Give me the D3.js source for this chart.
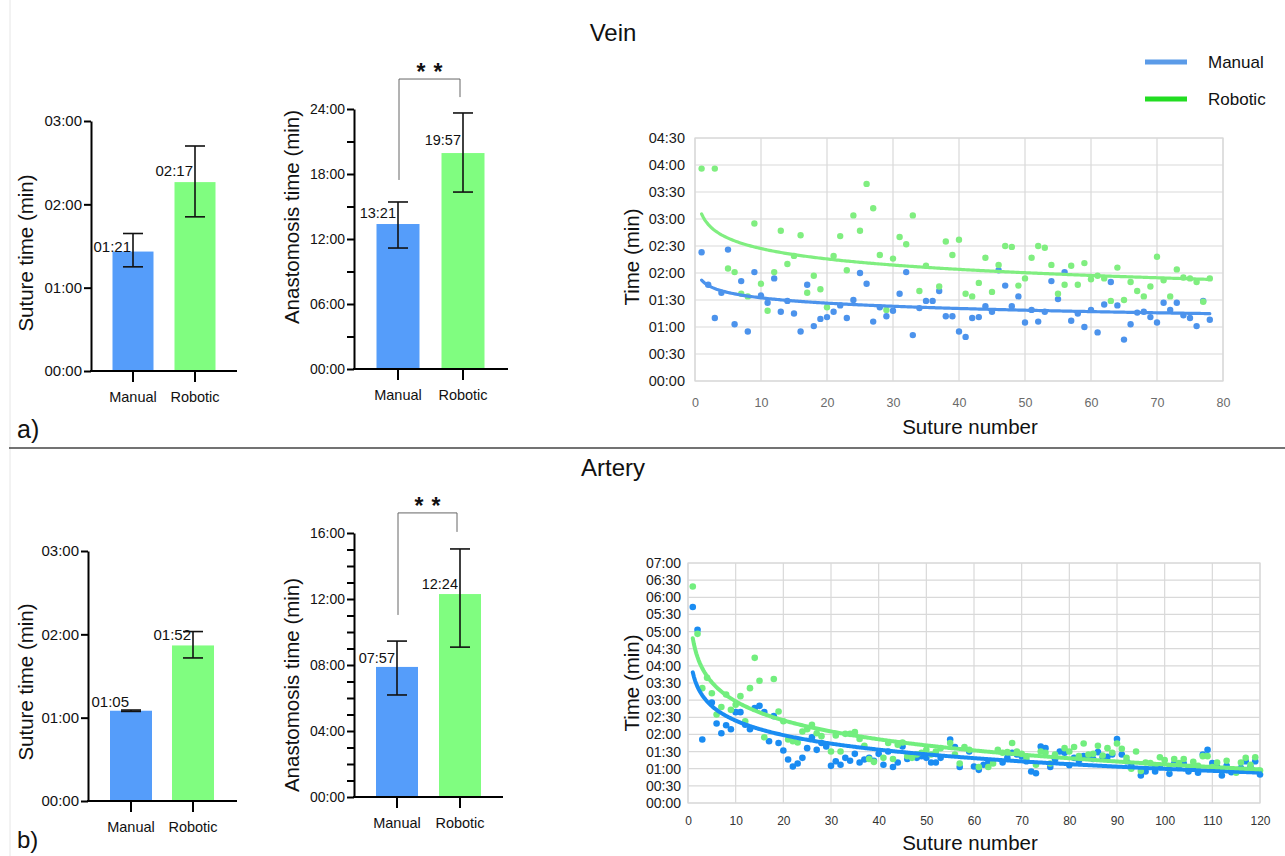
<!DOCTYPE html>
<html><head><meta charset="utf-8">
<script src="https://cdn.jsdelivr.net/npm/d3@7"></script>
<style>body{margin:0;background:#fff;} svg{display:block;font-family:"Liberation Sans",Arial,Helvetica,sans-serif;}</style>
</head><body><svg id="c" width="1285" height="856"></svg>
<script>
// ---------------- DATA ----------------
const groups = ["Manual", "Robotic"];
const legendLabels = ["Manual", "Robotic"];
const panelTitles = ["Vein", "Artery"];
const panelTags = ["a)", "b)"];

// Vein bar charts (values in seconds)
const veinSutureMean = [86, 136];
const veinSutureLow = [75, 111];
const veinSutureHigh = [99, 162];
const veinSutureLabels = ["01:21", "02:17"];
const veinSutureTicks = [0, 60, 120, 180];

const veinAnastMean = [803, 1196];
const veinAnastLow = [670, 980];
const veinAnastHigh = [925, 1418];
const veinAnastLabels = ["13:21", "19:57"];
const veinAnastTicks = [0, 180, 360, 540, 720, 900, 1080, 1260, 1440];
const veinAnastTickLabels = [0, 360, 720, 1080, 1440];
const veinBracket = [1047, 1606, 1506]; // left leg bottom, top, right leg bottom

// Artery bar charts
const arterySutureMean = [65, 112];
const arterySutureLow = [64.5, 103];
const arterySutureHigh = [65.5, 122];
const arterySutureLabels = ["01:05", "01:52"];
const arterySutureTicks = [0, 60, 120, 180];

const arteryAnastMean = [473, 738];
const arteryAnastLow = [371, 545];
const arteryAnastHigh = [567, 902];
const arteryAnastLabels = ["07:57", "12:24"];
const arteryAnastTicks = d3.range(0, 961, 60);
const arteryAnastTickLabels = [0, 240, 480, 720, 960];
const arteryBracket = [662, 1033, 964];

const significance = "*";

// Vein scatter: time (s) per suture number 1..78 (null = not visible)
const veinManual = [143,107,70,98,146,63,111,55,121,95,87,114,77,89,75,55,107,61,69,71,77,84,70,90,120,108,66,82,72,78,97,121,51,81,89,89,100,72,72,55,49,70,71,83,77,123,106,83,94,65,79,66,77,111,91,121,67,75,60,79,54,85,110,84,46,63,76,77,71,65,87,79,87,73,70,61,89,68];
const veinRobotic = [236,null,236,null,125,121,97,94,175,108,78,121,167,130,139,162,98,117,102,82,139,161,123,184,167,219,192,140,79,136,160,152,184,100,128,null,105,155,140,157,97,94,109,137,99,129,150,149,106,114,137,150,148,129,97,107,128,107,131,113,117,114,89,126,90,110,100,94,105,138,112,94,124,115,114,110,88,114];
const veinXTicks = d3.range(0, 81, 10);
const veinYTicks = d3.range(0, 271, 30);

// Artery scatter: time (s) per suture number 1..120
const arteryManual = [343,303,111,null,176,139,122,136,129,159,159,137,129,166,170,159,108,152,105,92,76,64,69,79,96,115,93,105,99,65,73,67,79,74,86,71,76,79,74,86,67,90,63,71,99,77,82,79,82,79,71,71,79,null,111,98,63,null,90,64,58,67,71,null,null,71,79,88,85,82,73,55,52,99,96,63,76,90,88,66,79,74,82,79,77,89,80,81,85,112,85,73,65,null,48,55,null,55,63,null,51,69,65,69,55,63,53,85,93,70,63,48,65,54,null,61,73,63,73,50];
const arteryRobotic = [379,296,201,219,192,155,168,190,163,172,187,143,201,254,214,115,null,217,160,143,111,108,106,125,129,137,122,117,null,90,118,90,121,121,124,112,100,77,72,null,79,105,77,102,106,82,79,85,88,93,85,90,96,null,105,85,69,98,93,null,63,null,63,69,93,88,89,105,90,86,79,null,67,90,88,69,85,null,96,90,98,82,104,85,86,100,83,96,88,104,95,79,60,90,56,71,70,64,80,75,61,77,70,77,61,72,65,82,82,63,71,58,74,58,53,71,79,67,80,57];
const arteryXTicks = d3.range(0, 121, 10);
const arteryYTicks = d3.range(0, 421, 30);

// ---------------- STYLE ----------------
const C = {
  barBlue: "#559DFA", barGreen: "#80FD80",
  veinBlue: "#4C93EC", veinGreen: "#80EE80",
  artBlue: "#1A8CF2", artGreen: "#72EE7E",
  legBlue: "#5B9BE8", legGreen: "#22DD22",
  grid: "#d9d9d9"
};
const FONT = '"Liberation Sans",Arial,Helvetica,sans-serif';
const svg = d3.select("#c");
const fmt = s => { s = Math.round(s); const m = Math.floor(s / 60), r = s % 60; return String(m).padStart(2, "0") + ":" + String(r).padStart(2, "0"); };

// ---------- frame ----------
svg.append("line").attr("x1", 10).attr("x2", 10).attr("y1", 0).attr("y2", 856).attr("stroke", "#e6e6e6").attr("stroke-width", 1);
svg.append("line").attr("x1", 9).attr("x2", 1285).attr("y1", 448).attr("y2", 448).attr("stroke", "#444").attr("stroke-width", 1.5);

svg.append("text").attr("x", 613).attr("y", 41).attr("text-anchor", "middle").attr("font-size", 24).attr("fill", "#111").text(panelTitles[0]);
svg.append("text").attr("x", 613).attr("y", 476).attr("text-anchor", "middle").attr("font-size", 24).attr("fill", "#111").text(panelTitles[1]);
svg.append("text").attr("x", 17).attr("y", 438).attr("font-size", 25).attr("fill", "#111").text(panelTags[0]);
svg.append("text").attr("x", 17).attr("y", 848).attr("font-size", 24).attr("fill", "#111").text(panelTags[1]);

// legend
const legColors = [C.legBlue, C.legGreen];
legendLabels.forEach((l, i) => {
  const y = 62 + i * 37;
  svg.append("line").attr("x1", 1145).attr("x2", 1187).attr("y1", y).attr("y2", y).attr("stroke", legColors[i]).attr("stroke-width", 5);
  svg.append("text").attr("x", 1208).attr("y", y + 6).attr("font-size", 17).attr("fill", "#111").text(l);
});

// ---------- bar charts ----------
function barChart(o) {
  const g = svg.append("g");
  const y = d3.scaleLinear().domain([0, o.max]).range([o.y0, o.y1]);
  const x = d3.scalePoint().domain(groups).range(o.centers);
  const cols = [C.barBlue, C.barGreen];
  g.selectAll("rect.bar").data(groups).join("rect")
    .attr("x", d => x(d) - o.bw / 2).attr("width", o.bw)
    .attr("y", (d, i) => y(o.mean[i])).attr("height", (d, i) => y(0) - y(o.mean[i]))
    .attr("fill", (d, i) => cols[i]);
  const ay = d3.axisLeft(y).tickValues(o.ticks).tickSize(7).tickSizeOuter(0)
    .tickFormat(d => o.labelTicks.includes(d) ? fmt(d) : "");
  const ga = g.append("g").attr("transform", `translate(${o.ax},0)`).call(ay);
  ga.select(".domain").attr("stroke", "#000").attr("stroke-width", 2);
  ga.selectAll(".tick line").attr("stroke", "#000").attr("stroke-width", 2);
  ga.selectAll(".tick text").attr("font-family", FONT).attr("font-size", o.tfs).attr("fill", "#111").attr("x", -9);
  g.append("line").attr("x1", o.ax - 1).attr("x2", o.xEnd).attr("y1", o.y0).attr("y2", o.y0).attr("stroke", "#000").attr("stroke-width", 2);
  g.selectAll("line.xt").data(groups).join("line").attr("class", "xt")
    .attr("x1", d => x(d)).attr("x2", d => x(d)).attr("y1", o.y0).attr("y2", o.y0 + 11).attr("stroke", "#000").attr("stroke-width", 2);
  g.selectAll("text.xl").data(groups).join("text").attr("class", "xl")
    .attr("x", d => x(d)).attr("y", o.y0 + 31).attr("text-anchor", "middle").attr("font-size", 14.5).attr("fill", "#111").text(d => d);
  groups.forEach((d, i) => {
    const cx = x(d);
    g.append("line").attr("x1", cx).attr("x2", cx).attr("y1", y(o.low[i])).attr("y2", y(o.high[i])).attr("stroke", "#111").attr("stroke-width", 1.6);
    [o.low[i], o.high[i]].forEach(v => g.append("line").attr("x1", cx - 10).attr("x2", cx + 10).attr("y1", y(v)).attr("y2", y(v)).attr("stroke", "#111").attr("stroke-width", 1.6));
    g.append("text").attr("x", cx - 2).attr("y", y(o.mean[i]) - 4 + o.lblDy[i]).attr("text-anchor", "end").attr("font-size", o.vfs).attr("fill", "#111").text(o.labels[i]);
  });
  g.append("text").attr("transform", `translate(${o.titleX},${(o.y0 + o.y1) / 2 + o.titleDy}) rotate(-90)`)
    .attr("text-anchor", "middle").attr("font-size", 20.5).attr("fill", "#111").text(o.title);
  if (o.bracket) {
    const [lb, top, rb] = o.bracket;
    const xl = x(groups[0]) + 1, xr = x(groups[1]) - 3;
    g.append("path").attr("d", `M${xl},${y(lb)}V${y(top)}H${xr}V${y(rb)}`).attr("fill", "none").attr("stroke", "#666").attr("stroke-width", 1);
    const mx = (xl + xr) / 2;
    [-8.5, 8.5].forEach(dx => g.append("text").attr("x", mx + dx).attr("y", y(top) + 1).attr("text-anchor", "middle").attr("font-size", 23).attr("font-weight", "bold").attr("fill", "#111").text(significance));
  }
}

barChart({ max: 180, y0: 371, y1: 121, ax: 91, xEnd: 237, centers: [133, 195], bw: 41, mean: veinSutureMean, low: veinSutureLow, high: veinSutureHigh, labels: veinSutureLabels, ticks: veinSutureTicks, labelTicks: veinSutureTicks, tfs: 15, vfs: 15, lblDy: [4, -2], title: "Suture time (min)", titleX: 33, titleDy: 7 });
barChart({ max: 1440, y0: 369, y1: 109, ax: 354, xEnd: 508, centers: [398, 463], bw: 43, mean: veinAnastMean, low: veinAnastLow, high: veinAnastHigh, labels: veinAnastLabels, ticks: veinAnastTicks, labelTicks: veinAnastTickLabels, tfs: 14, vfs: 14.5, lblDy: [-2, -4], title: "Anastomosis time (min)", titleX: 299, titleDy: -22, bracket: veinBracket });
barChart({ max: 180, y0: 801, y1: 551, ax: 88, xEnd: 237, centers: [131, 193], bw: 42, mean: arterySutureMean, low: arterySutureLow, high: arterySutureHigh, labels: arterySutureLabels, ticks: arterySutureTicks, labelTicks: arterySutureTicks, tfs: 15, vfs: 15, lblDy: [0, -1], title: "Suture time (min)", titleX: 33, titleDy: 6 });
barChart({ max: 960, y0: 797, y1: 533, ax: 354, xEnd: 503, centers: [397, 460], bw: 42, mean: arteryAnastMean, low: arteryAnastLow, high: arteryAnastHigh, labels: arteryAnastLabels, ticks: arteryAnastTicks, labelTicks: arteryAnastTickLabels, tfs: 14, vfs: 14.5, lblDy: [0, -1], title: "Anastomosis time (min)", titleX: 299, titleDy: 20, bracket: arteryBracket });

// ---------- scatter charts ----------
function logFit(pts) {
  const n = pts.length; let sx = 0, sy = 0, sxx = 0, sxy = 0;
  pts.forEach(p => { const lx = Math.log(p.x); sx += lx; sy += p.y; sxx += lx * lx; sxy += lx * p.y; });
  const b = (n * sxy - sx * sy) / (n * sxx - sx * sx); const a = (sy - b * sx) / n;
  return v => a + b * Math.log(v);
}
function scatter(o) {
  const g = svg.append("g");
  const x = d3.scaleLinear().domain([0, o.xmax]).range([o.left, o.right]);
  const y = d3.scaleLinear().domain([0, o.ymax]).range([o.bottom, o.top]);
  g.selectAll("line.gx").data(o.xticks).join("line").attr("x1", d => x(d)).attr("x2", d => x(d)).attr("y1", o.top).attr("y2", o.bottom).attr("stroke", C.grid).attr("stroke-width", 1.2);
  g.selectAll("line.gy").data(o.yticks).join("line").attr("x1", o.left).attr("x2", o.right).attr("y1", d => y(d)).attr("y2", d => y(d)).attr("stroke", C.grid).attr("stroke-width", 1.2);
  const ax = g.append("g").attr("transform", `translate(0,${o.bottom})`).call(d3.axisBottom(x).tickValues(o.xticks).tickSize(0).tickPadding(o.xpad));
  ax.select(".domain").remove();
  ax.selectAll("text").attr("font-family", FONT).attr("font-size", o.xfs).attr("fill", o.xcol);
  const ay = g.append("g").attr("transform", `translate(${o.left},0)`).call(d3.axisLeft(y).tickValues(o.yticks).tickSize(0).tickPadding(o.ypad).tickFormat(fmt));
  ay.select(".domain").remove();
  ay.selectAll("text").attr("font-family", FONT).attr("font-size", o.yfs).attr("fill", "#1a1a1a");
  g.append("rect").attr("x", o.left).attr("y", o.top).attr("width", o.right - o.left).attr("height", o.bottom - o.top).attr("fill", "none").attr("stroke", C.grid).attr("stroke-width", 1.2);

  const series = o.series.map(s => ({ color: s.color, pts: s.data.map((v, i) => ({ x: i + 1, y: v })).filter(p => p.y != null) }));
  series.forEach(s => {
    g.append("g").selectAll("circle").data(s.pts).join("circle").attr("cx", d => x(d.x)).attr("cy", d => y(d.y)).attr("r", o.r).attr("fill", s.color);
  });
  const line = d3.line().x(d => x(d.x)).y(d => y(d.y)).curve(d3.curveLinear);
  o.lineOrder.forEach(k => {
    const s = series[k]; const f = logFit(s.pts);
    const samples = d3.range(1, o.n + 0.001, 0.25).map(v => ({ x: v, y: f(v) }));
    g.append("path").attr("d", line(samples)).attr("fill", "none").attr("stroke", s.color).attr("stroke-width", o.lw).attr("stroke-linecap", "round");
  });
  g.append("text").attr("transform", `translate(${o.ytx},${o.yty}) rotate(-90)`).attr("text-anchor", "middle").attr("font-size", 20.5).attr("fill", "#111").text("Time (min)");
  g.append("text").attr("x", 970).attr("y", o.xty).attr("text-anchor", "middle").attr("font-size", 20.5).attr("fill", "#111").text("Suture number");
}

scatter({ xmax: 80, ymax: 270, left: 695, right: 1223, top: 138, bottom: 381, xticks: veinXTicks, yticks: veinYTicks,
  xpad: 17, xfs: 12.5, xcol: "#6a6a6a", ypad: 10, yfs: 14.5, r: 3.2, lw: 3.2, n: 78,
  series: [{ data: veinManual, color: C.veinBlue }, { data: veinRobotic, color: C.veinGreen }], lineOrder: [1, 0],
  ytx: 639, yty: 257, xty: 434 });
scatter({ xmax: 120, ymax: 420, left: 688, right: 1260, top: 563, bottom: 803, xticks: arteryXTicks, yticks: arteryYTicks,
  xpad: 13, xfs: 12, xcol: "#333", ypad: 7, yfs: 14, r: 3.3, lw: 4, n: 120,
  series: [{ data: arteryManual, color: C.artBlue }, { data: arteryRobotic, color: C.artGreen }], lineOrder: [0, 1],
  ytx: 639, yty: 683, xty: 850 });
</script></body></html>
